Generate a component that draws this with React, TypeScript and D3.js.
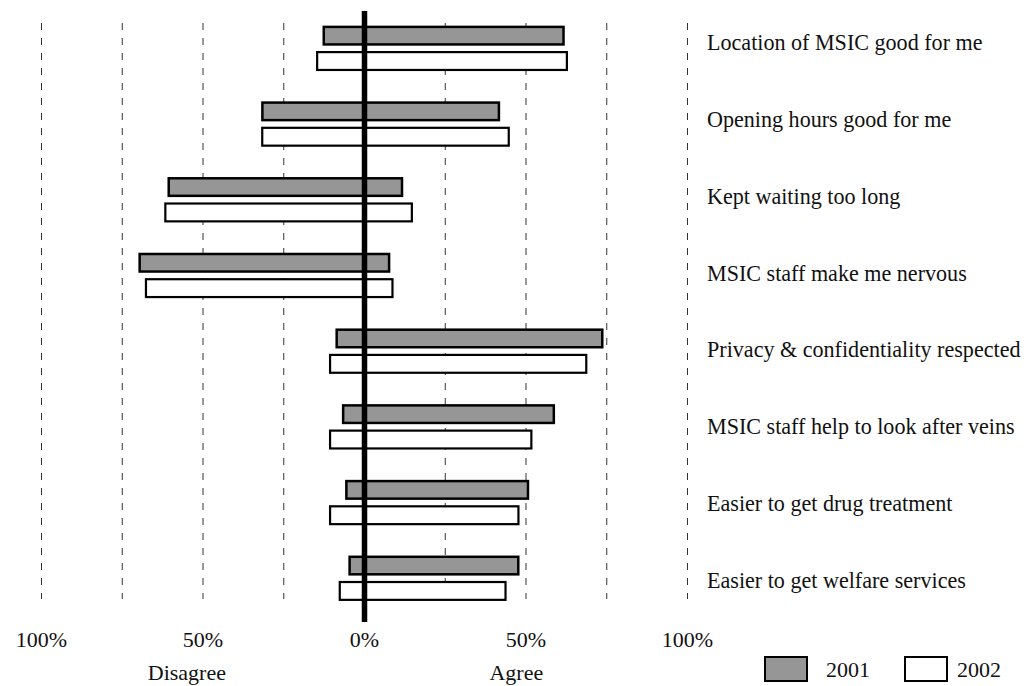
import React from "react";
import * as d3 from "d3";

const categories = [
  "Location of MSIC good for me",
  "Opening hours good for me",
  "Kept waiting too long",
  "MSIC staff make me nervous",
  "Privacy & confidentiality respected",
  "MSIC staff help to look after veins",
  "Easier to get drug treatment",
  "Easier to get welfare services",
];
const years = ["2001", "2002"];
const disagree2001 = [13, 32, 61, 70, 9, 7, 6, 5];
const agree2001 = [62, 42, 12, 8, 74, 59, 51, 48];
const disagree2002 = [15, 32, 62, 68, 11, 11, 11, 8];
const agree2002 = [63, 45, 15, 9, 69, 52, 48, 44];
const gridTicks = [-100, -75, -50, -25, 25, 50, 75, 100];
const tickValues = [-100, -50, 0, 50, 100];
const tickLabels = ["100%", "50%", "0%", "50%", "100%"];

const W = 1031;
const H = 686;
const FONT = "'Liberation Serif', 'Times New Roman', serif";

export default function App() {
  const x = d3.scaleLinear().domain([-100, 100]).range([41.5, 687.5]);
  const y = d3
    .scaleBand<string>()
    .domain(categories)
    .range([10.5, 616.1])
    .paddingInner(0.4)
    .paddingOuter(0.2);
  const sub = d3
    .scaleBand<string>()
    .domain(years)
    .range([0, y.bandwidth()])
    .paddingInner(0.21);
  const labelY = d3.scalePoint<string>().domain(categories).range([50, 588]);

  const series = [
    { year: "2001", dis: disagree2001, agr: agree2001, fill: "#969696", sw: 2.5 },
    { year: "2002", dis: disagree2002, agr: agree2002, fill: "#ffffff", sw: 2.2 },
  ];

  return (
    <svg
      width={W}
      height={H}
      style={{ position: "fixed", left: 0, top: 0, background: "#fff" }}
      fontFamily={FONT}
    >
      <rect x={0} y={0} width={W} height={H} fill="#fff" />
      {gridTicks.map((t) => (
        <line
          key={t}
          x1={x(t)}
          x2={x(t)}
          y1={23}
          y2={599}
          stroke="#333"
          strokeWidth={1}
          strokeDasharray="7,8"
        />
      ))}
      {series.map((s) =>
        categories.map((c, i) => {
          const x0 = x(-s.dis[i]);
          const x1 = x(s.agr[i]);
          const by = (y(c) as number) + (sub(s.year) as number);
          const inset = s.sw / 2;
          return (
            <rect
              key={s.year + c}
              x={x0 + inset}
              y={by + inset}
              width={x1 - x0 - s.sw}
              height={sub.bandwidth() - s.sw}
              fill={s.fill}
              stroke="#000"
              strokeWidth={s.sw}
            />
          );
        })
      )}
      <line x1={x(0)} x2={x(0)} y1={11} y2={622} stroke="#000" strokeWidth={5.5} />
      {categories.map((c) => (
        <text key={c} x={707} y={labelY(c)} fontSize={22.1} fill="#111">
          {c}
        </text>
      ))}
      {tickValues.map((v, i) => (
        <text key={i} x={x(v)} y={647} fontSize={22} textAnchor="middle" fill="#111">
          {tickLabels[i]}
        </text>
      ))}
      <text x={x(-55)} y={680} fontSize={22} textAnchor="middle" fill="#111">
        Disagree
      </text>
      <text x={x(47)} y={680} fontSize={22} textAnchor="middle" fill="#111">
        Agree
      </text>
      <rect x={765} y={657} width={42} height={24} fill="#969696" stroke="#000" strokeWidth={2} />
      <text x={826} y={677} fontSize={22} fill="#111">2001</text>
      <rect x={905} y={657} width={42} height={24} fill="#fff" stroke="#000" strokeWidth={2} />
      <text x={957} y={677} fontSize={22} fill="#111">2002</text>
    </svg>
  );
}
